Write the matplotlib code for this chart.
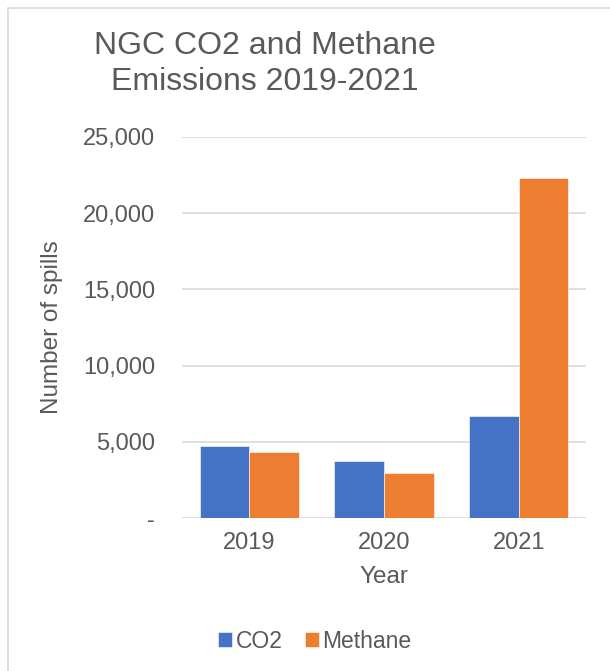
import matplotlib.pyplot as plt
import numpy as np
from matplotlib.patches import Rectangle
from matplotlib.ticker import FuncFormatter

plt.rcParams['font.family'] = ['Liberation Sans', 'DejaVu Sans']

years = ['2019', '2020', '2021']
co2 = [4730, 3770, 6700]
methane = [4360, 2920, 22330]
series_names = ['CO2', 'Methane']
colors = ['#4472C4', '#ED7D31']
text_color = '#595959'
grid_color = '#D9D9D9'

fig = plt.figure(figsize=(6.10, 6.71), dpi=100)

# chart frame (cropped at right and bottom like the screenshot)
fig.patches.append(Rectangle((8 / 610, -0.05), 1.1, 1 - 8 / 671 + 0.05,
                             transform=fig.transFigure, fill=False,
                             edgecolor='#D9D9D9', linewidth=1.2))

ax = fig.add_axes([182 / 610, 1 - 518 / 671, (586 - 182) / 610, (518 - 137) / 671])

x = np.arange(len(years))
width = 0.369
ax.bar(x - width / 2, co2, width, color=colors[0], label=series_names[0],
       edgecolor='white', linewidth=0.4)
ax.bar(x + width / 2, methane, width, color=colors[1], label=series_names[1],
       edgecolor='white', linewidth=0.4)

ax.set_xlim(-0.5, 2.5)
ax.set_ylim(0, 25000)
ax.set_yticks(range(0, 25001, 5000))
ax.yaxis.set_major_formatter(FuncFormatter(lambda v, p: '-' if v == 0 else f'{int(v):,}'))
ax.set_xticks(x)
ax.set_xticklabels(years)

ax.grid(axis='y', color=grid_color, linewidth=1.2)
ax.set_axisbelow(True)
for s in ['top', 'right', 'left', 'bottom']:
    ax.spines[s].set_visible(False)
ax.tick_params(length=0, labelsize=17, colors=text_color)
ax.tick_params(axis='y', pad=19.5)
ax.tick_params(axis='x', pad=10)

ax.set_xlabel('Year', fontsize=17.5, color=text_color, labelpad=9)
fig.text(52 / 610, 1 - 327 / 671, 'Number of spills', rotation=90, fontsize=17.5,
         color=text_color, ha='center', va='center')

fig.text(265 / 610, 1 - 64 / 671, 'NGC CO2 and Methane\nEmissions 2019-2021',
         fontsize=23, color=text_color, ha='center', va='center', linespacing=1.22)

leg = fig.legend(loc='center', bbox_to_anchor=(315 / 610, 1 - 641 / 671), ncol=2,
                 frameon=False, fontsize=16.5, handlelength=0.6, handleheight=0.6,
                 handletextpad=0.15, columnspacing=1.0)
for t in leg.get_texts():
    t.set_color(text_color)

fig.savefig('out.png', dpi=100)
